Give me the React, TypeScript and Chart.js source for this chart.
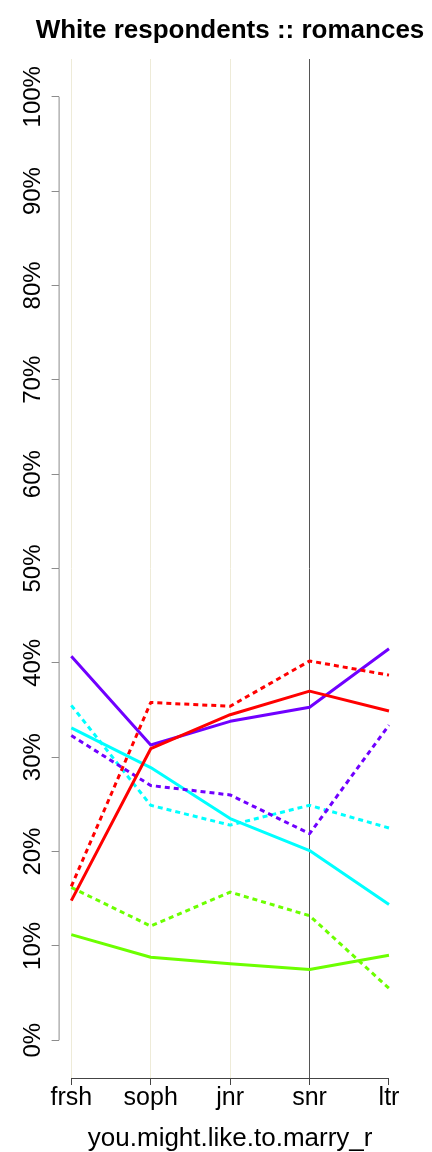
import React, { useEffect, useRef } from "react";
import { Chart, registerables } from "chart.js";

Chart.register(...registerables);

const categories = ["frsh", "soph", "jnr", "snr", "ltr"];
const yTickValues = [0, 10, 20, 30, 40, 50, 60, 70, 80, 90, 100];

const redSolid = [14.8, 30.9, 34.5, 37.0, 34.9];
const redDotted = [16.3, 35.8, 35.4, 40.2, 38.7];
const purpleSolid = [40.7, 31.3, 33.8, 35.3, 41.5];
const purpleDotted = [32.3, 27.0, 26.0, 21.9, 33.4];
const cyanSolid = [33.1, 28.9, 23.5, 20.1, 14.4];
const cyanDotted = [35.5, 24.9, 22.8, 24.9, 22.5];
const greenSolid = [11.2, 8.8, 8.1, 7.5, 9.0];
const greenDotted = [16.2, 12.1, 15.7, 13.2, 5.5];

const RED = "#FF0000";
const PURPLE = "#7000FF";
const CYAN = "#00FFFF";
const GREEN = "#6CFF00";

const FONT = "'Liberation Sans', Arial, Helvetica, sans-serif";

const toPoints = (vals: number[]) => vals.map((v, i) => ({ x: i + 1, y: v }));

const mk = (label: string, vals: number[], color: string, dotted: boolean) => ({
  label,
  data: toPoints(vals),
  borderColor: color,
  backgroundColor: color,
  borderWidth: 3,
  borderDash: dotted ? [5, 4] : [],
  borderCapStyle: "butt" as const,
  borderJoinStyle: "round" as const,
  pointRadius: 0,
  tension: 0,
  fill: false,
});

const axisLines = {
  id: "axisLines",
  afterDraw(chart: any) {
    const { ctx, chartArea, scales } = chart;
    const x = scales.x;
    const y = scales.y;
    ctx.save();
    ctx.lineWidth = 1;
    ctx.strokeStyle = "#8c8c8c";
    ctx.beginPath();
    ctx.moveTo(chartArea.left + 0.5, y.getPixelForValue(0));
    ctx.lineTo(chartArea.left + 0.5, y.getPixelForValue(100));
    ctx.stroke();
    ctx.strokeStyle = "#444444";
    ctx.beginPath();
    ctx.moveTo(x.getPixelForValue(1), chartArea.bottom + 0.5);
    ctx.lineTo(x.getPixelForValue(categories.length), chartArea.bottom + 0.5);
    ctx.stroke();
    ctx.restore();
  },
};

export default function App() {
  const ref = useRef<HTMLCanvasElement | null>(null);
  useEffect(() => {
    if (!ref.current) return;
    const chart = new Chart(ref.current, {
      type: "line",
      data: {
        datasets: [
          mk("red", redSolid, RED, false),
          mk("red dotted", redDotted, RED, true),
          mk("purple", purpleSolid, PURPLE, false),
          mk("purple dotted", purpleDotted, PURPLE, true),
          mk("cyan", cyanSolid, CYAN, false),
          mk("cyan dotted", cyanDotted, CYAN, true),
          mk("green", greenSolid, GREEN, false),
          mk("green dotted", greenDotted, GREEN, true),
        ],
      },
      options: {
        responsive: false,
        animation: false,
        devicePixelRatio: 1,
        layout: { padding: { left: 0, right: -28, top: 0, bottom: 0 } },
        plugins: {
          legend: { display: false },
          tooltip: { enabled: false },
          title: {
            display: true,
            fullSize: true,
            text: "White respondents :: romances",
            color: "#000",
            font: { family: FONT, size: 26, weight: "bold" },
            padding: { top: 15.4, bottom: 12.4 },
          },
        },
        scales: {
          x: {
            type: "linear",
            position: "bottom",
            min: 0.84,
            max: 5.16,
            afterBuildTicks: (s: any) => {
              s.ticks = categories.map((_, i) => ({ value: i + 1 }));
            },
            afterFit: (s: any) => {
              s.height = 1152 - 1078;
            },
            ticks: {
              autoSkip: false,
              maxRotation: 0,
              minRotation: 0,
              color: "#000",
              padding: -2,
              font: { family: FONT, size: 25 },
              callback: (v: any) => categories[Math.round(Number(v)) - 1] ?? "",
            },
            grid: {
              drawOnChartArea: true,
              drawTicks: true,
              tickLength: 7,
              tickColor: "#444444",
              lineWidth: 1,
              color: (c: any) => {
                const v = c.tick?.value;
                if (v === 4) return "#555555";
                if (v === 5) return "rgba(0,0,0,0)";
                return "#EEEBD8";
              },
            },
            border: { display: false },
            title: {
              display: true,
              text: "you.might.like.to.marry_r",
              color: "#000",
              font: { family: FONT, size: 26 },
              padding: { top: 0, bottom: -2 },
            },
          },
          y: {
            type: "linear",
            min: -4,
            max: 104,
            afterBuildTicks: (s: any) => {
              s.ticks = yTickValues.map((v) => ({ value: v }));
            },
            afterFit: (s: any) => {
              s.width = 58.6;
            },
            ticks: {
              minRotation: 90,
              maxRotation: 90,
              crossAlign: "center",
              padding: -12,
              color: "#000",
              font: { family: FONT, size: 24 },
              callback: (v: any) => `${v}%`,
            },
            grid: {
              drawOnChartArea: false,
              drawTicks: true,
              tickLength: 7,
              tickColor: "#8c8c8c",
            },
            border: { display: false },
          },
          yRightSpace: {
            type: "linear",
            position: "right",
            display: true,
            afterFit: (s: any) => {
              s.width = 58.3;
            },
            ticks: { display: false },
            grid: { display: false, drawTicks: false },
            border: { display: false },
          },
        },
      },
      plugins: [axisLines],
    });
    return () => chart.destroy();
  }, []);
  return (
    <div style={{ position: "fixed", left: 0, top: 0, width: 432, height: 1152, background: "#fff" }}>
      <canvas ref={ref} width={432} height={1152} style={{ display: "block", width: 432, height: 1152 }} />
    </div>
  );
}
